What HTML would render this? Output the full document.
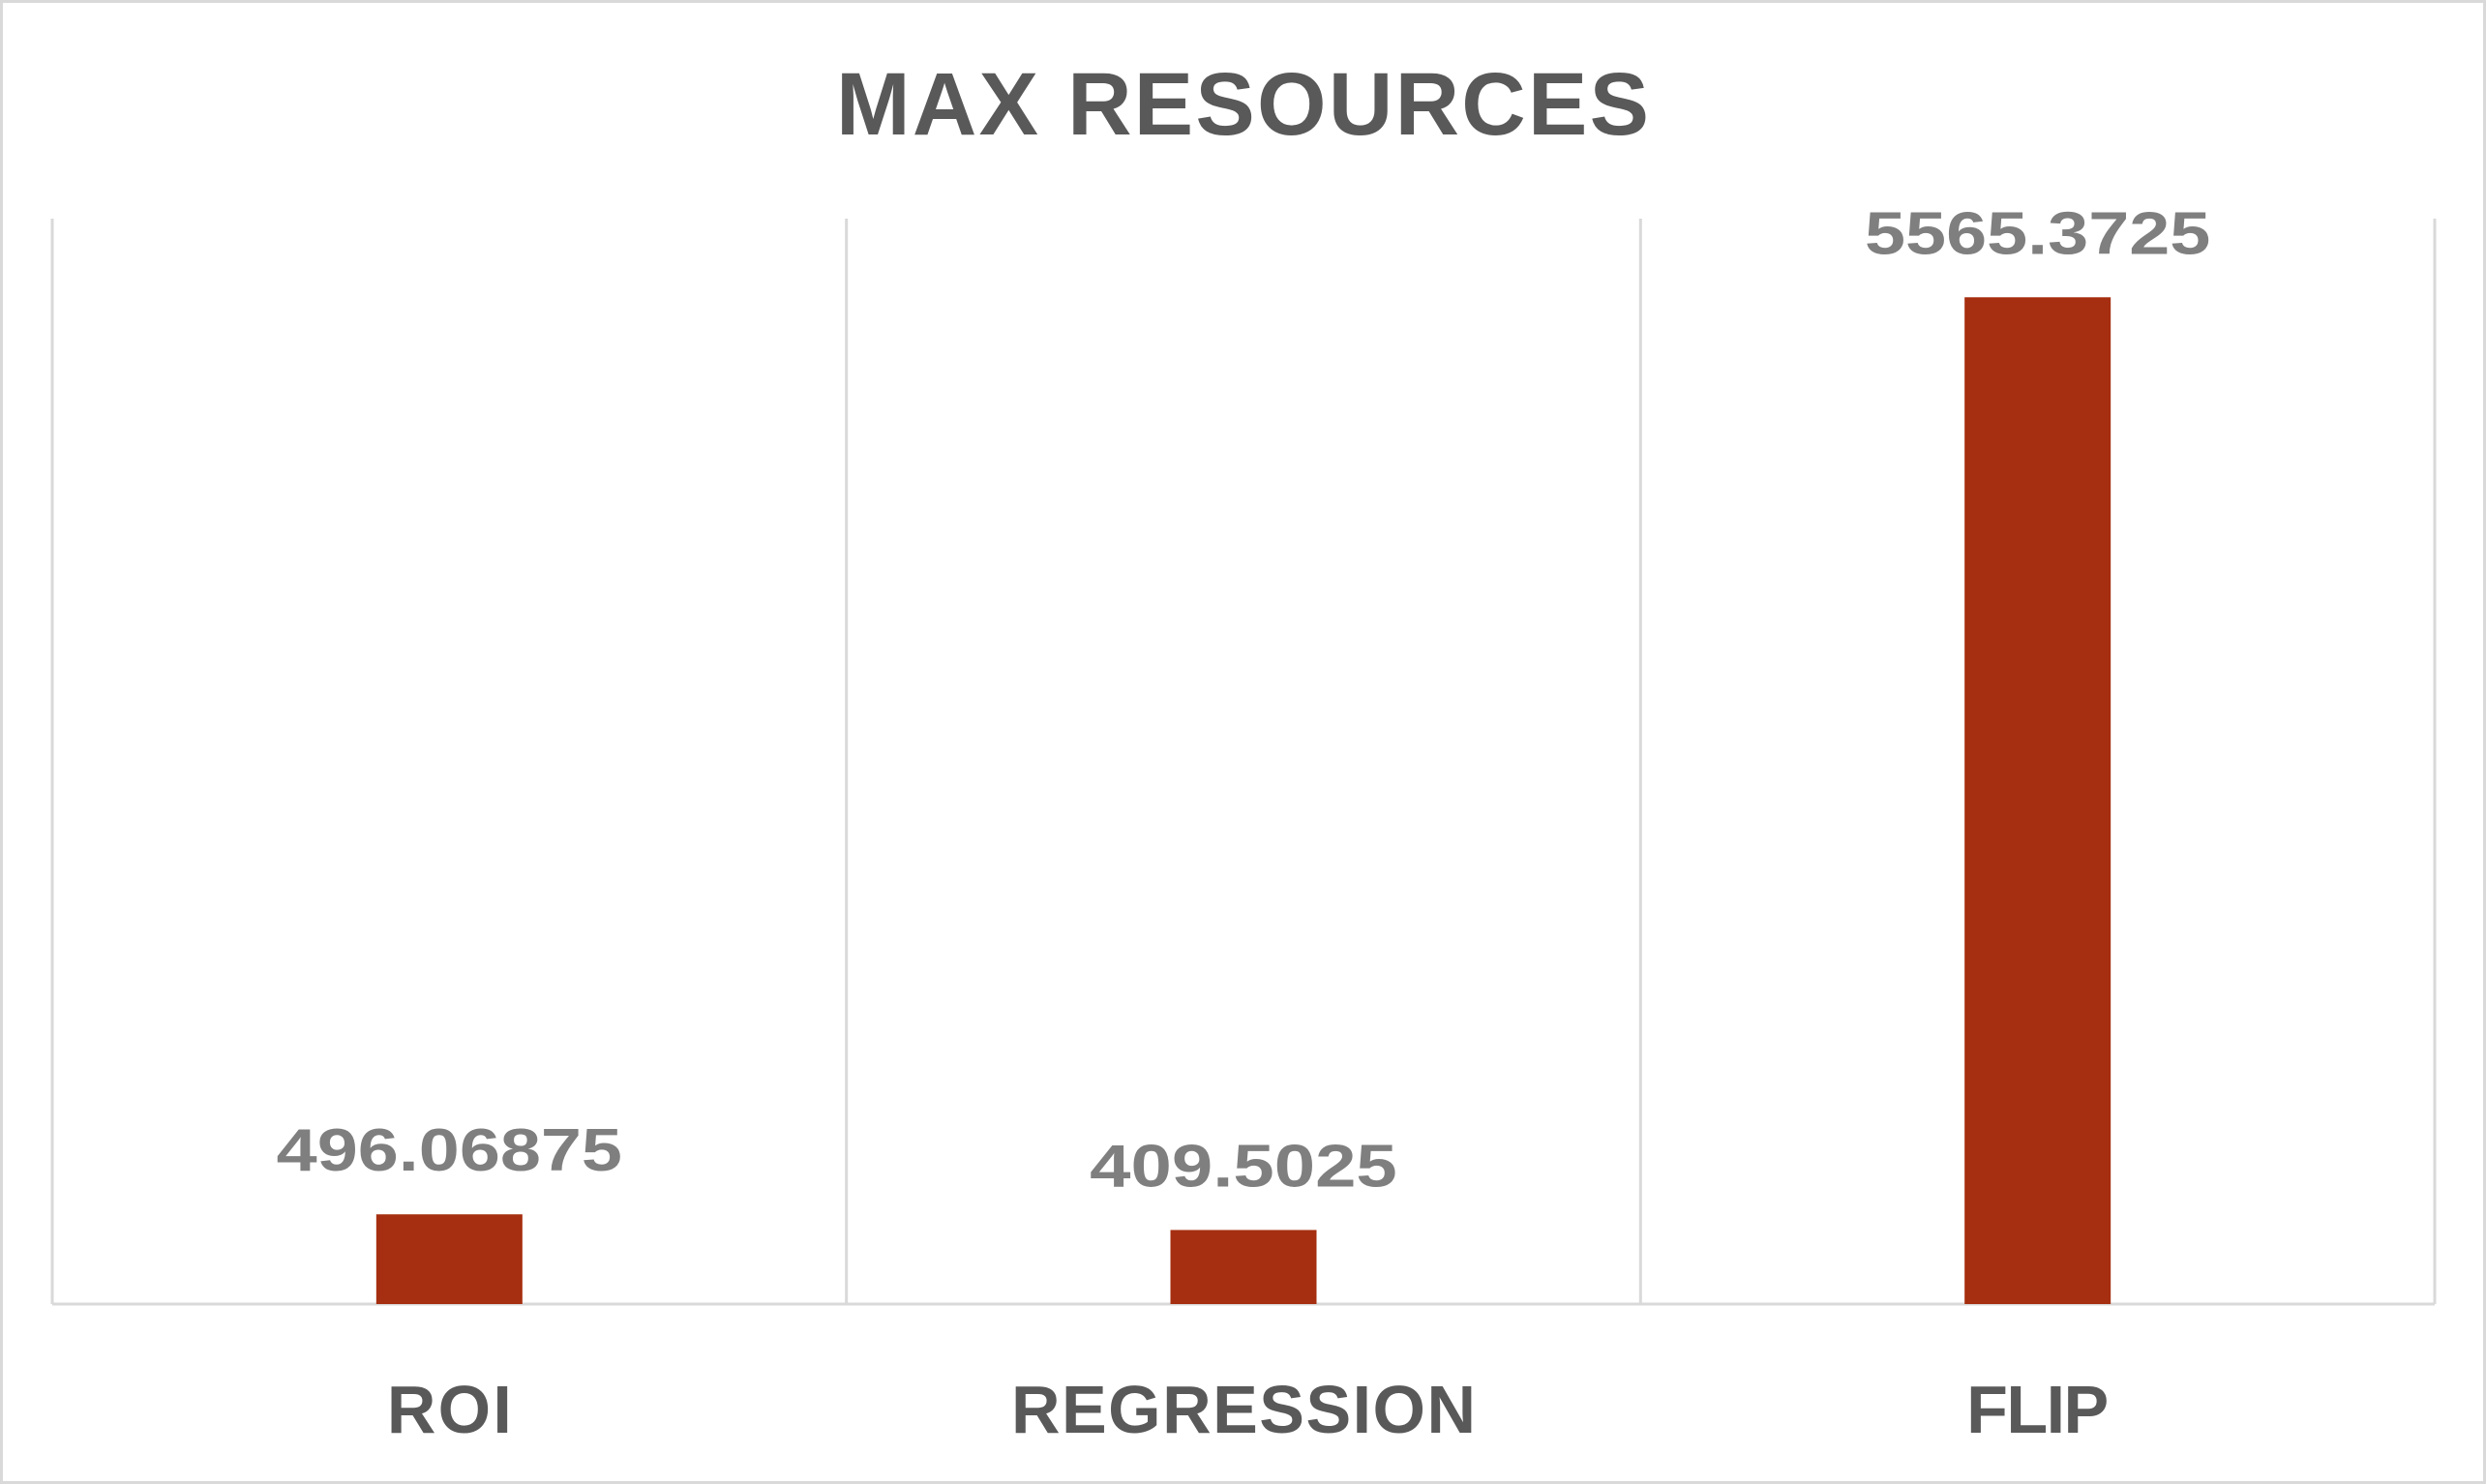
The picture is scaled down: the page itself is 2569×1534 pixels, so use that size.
<!DOCTYPE html>
<html><head><meta charset="utf-8"><style>
html,body{margin:0;padding:0;background:#fff}
svg{display:block}
text{font-family:"Liberation Sans",sans-serif;font-weight:bold}
</style></head><body>
<svg id="chart" width="2569" height="1534" viewBox="0 0 2569 1534" xmlns="http://www.w3.org/2000/svg">
<rect x="1.5" y="1.5" width="2566" height="1531" fill="#fff" stroke="#d9d9d9" stroke-width="3"/>
<text x="1284" y="139" text-anchor="middle" font-size="92" fill="#595959" textLength="840" lengthAdjust="spacing">MAX RESOURCES</text>
<g id="grid"></g><g id="bars"></g><g id="labels"></g>
</svg>
<script>
const categories = ["ROI", "REGRESSION", "FLIP"];
const values = [496.06875, 409.5025, 5565.3725];
const valueLabels = ["496.06875", "409.5025", "5565.3725"];
const yMax = 6000;

const L = 54, R = 2516, T = 226, B = 1348;
const NS = "http://www.w3.org/2000/svg";
const band = (R - L) / categories.length;
const xC = i => L + band * (i + 0.5);
const y = v => B - (v / yMax) * (B - T);
const barW = 151;
const catWidths = {ROI: 129, REGRESSION: 480, FLIP: 147};
function mk(tag, attrs, parent) {
  const e = document.createElementNS(NS, tag);
  for (const k in attrs) e.setAttribute(k, attrs[k]);
  parent.appendChild(e); return e;
}
const grid = document.getElementById('grid');
for (let i = 0; i <= categories.length; i++) {
  const x = L + band * i;
  const g = mk('line', {x1: x, x2: x, y1: T, y2: B, stroke: '#d9d9d9', 'stroke-width': 3}, grid);
  
  
}
const ax = mk('line', {x1: L, x2: R, y1: B, y2: B, stroke: '#d9d9d9', 'stroke-width': 3}, grid);


const bars = document.getElementById('bars'), labels = document.getElementById('labels');
categories.forEach((c, i) => {
  const yt = y(values[i]);
  const r = mk('rect', {x: xC(i) - barW / 2, y: yt, width: barW, height: B - yt, fill: '#a52f10'}, bars);
  
  
  const t = mk('text', {x: xC(i), y: yt - 45, 'text-anchor': 'middle', 'font-size': 62, fill: '#7f7f7f'}, labels);
  t.textContent = valueLabels[i];
  t.setAttribute('textLength', valueLabels[i].length * 39.7);
  t.setAttribute('lengthAdjust', 'spacingAndGlyphs');
  
  
  const cl = mk('text', {x: xC(i), y: 1481, 'text-anchor': 'middle', 'font-size': 70, fill: '#595959'}, labels);
  cl.textContent = c;
  cl.setAttribute('textLength', catWidths[c]);
  cl.setAttribute('lengthAdjust', 'spacing');
  
  
});
</script>
</body></html>
